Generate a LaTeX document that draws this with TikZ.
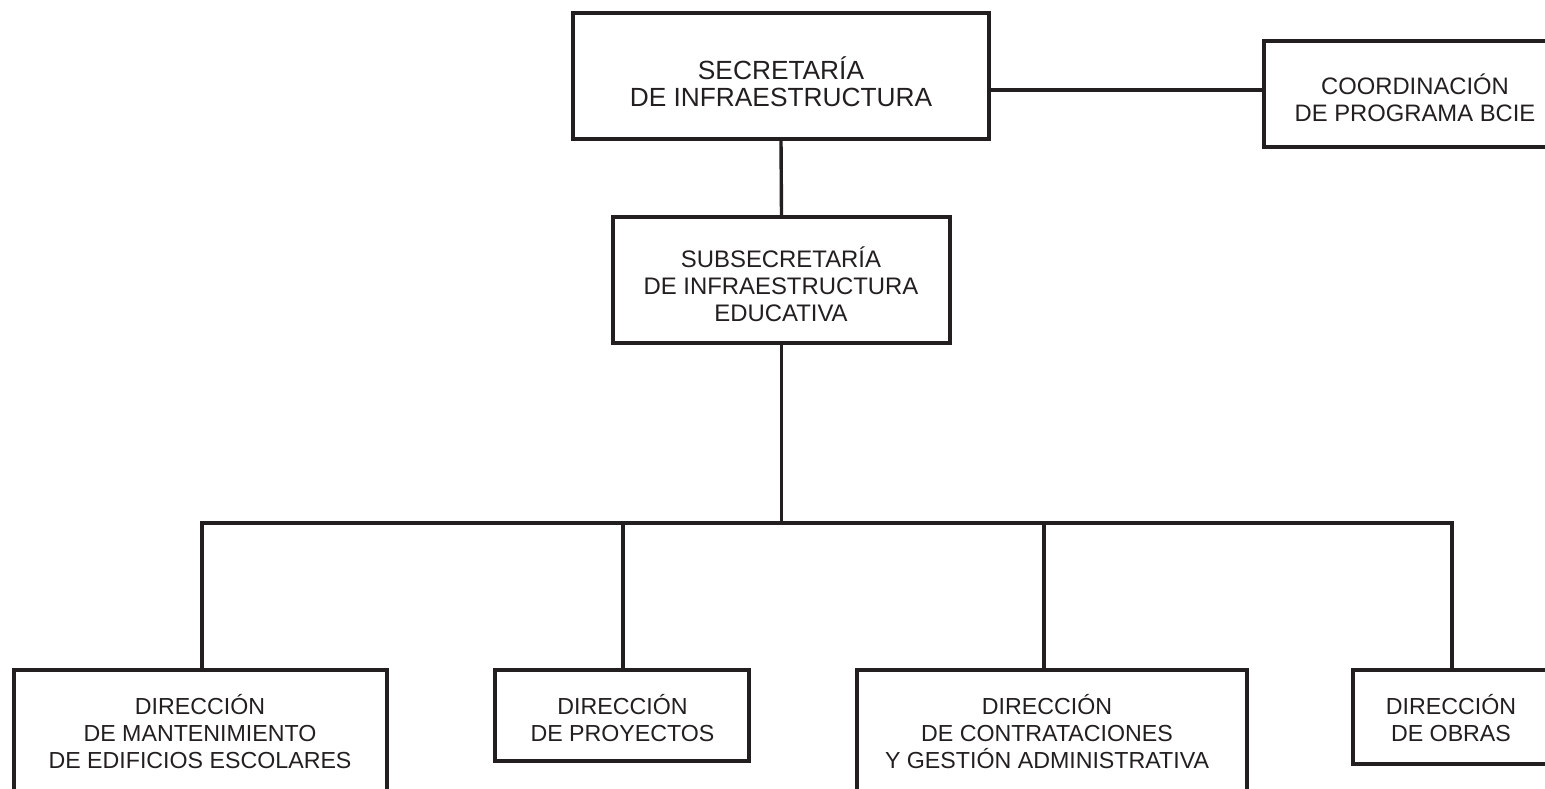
\documentclass[tikz,border=0pt]{standalone}
\usepackage{fontspec}
\setmainfont{Liberation Sans}
\definecolor{ink}{HTML}{231F20}
\begin{document}
\begin{tikzpicture}[x=1pt,y=-1pt,
  box/.style={draw=ink, line width=3.4pt, rectangle, inner sep=0pt, line join=miter},
  lbl/.style={text=ink, align=center, anchor=base, inner sep=0pt},
  conn/.style={draw=ink, line width=3.4pt, line join=miter}]
\useasboundingbox (0,0) rectangle (1545,789);
\fill[white] (0,0) rectangle (1545,789);
\clip (0,0) rectangle (1545,789);
% boxes
\node[box, minimum width=416pt, minimum height=126pt] (sec) at (781,76) {};
\node[box, minimum width=356pt, minimum height=106pt] (coord) at (1442,94) {};
\node[box, minimum width=337pt, minimum height=126pt] (sub) at (781.5,280) {};
\node[box, minimum width=373pt, minimum height=180pt] (man) at (200.5,760) {};
\node[box, minimum width=254pt, minimum height=91pt] (proy) at (622,715.5) {};
\node[box, minimum width=390pt, minimum height=180pt] (contr) at (1052,760) {};
\node[box, minimum width=267pt, minimum height=94pt] (obr) at (1486.5,717) {};
% texts (anchor base = baseline of last line)
\node[lbl, font=\fontsize{26.3}{27}\selectfont] (sect) at (781,107) {SECRETARÍA\\DE INFRAESTRUCTURA};
\node[lbl, font=\fontsize{23.8}{27}\selectfont] (coordt) at (1415,122) {COORDINACIÓN\\DE PROGRAMA BCIE};
\node[lbl, font=\fontsize{23.9}{27}\selectfont] (subt) at (781,321) {SUBSECRETARÍA\\DE INFRAESTRUCTURA\\EDUCATIVA};
\node[lbl, font=\fontsize{23.2}{26.7}\selectfont] (mant) at (200,768) {DIRECCIÓN\\DE MANTENIMIENTO\\DE EDIFICIOS ESCOLARES};
\node[lbl, font=\fontsize{23.2}{26.7}\selectfont] (proyt) at (622.5,741) {DIRECCIÓN\\DE PROYECTOS};
\node[lbl, font=\fontsize{23.2}{26.7}\selectfont] (contrt) at (1047,768) {DIRECCIÓN\\DE CONTRATACIONES\\Y GESTIÓN ADMINISTRATIVA};
\node[lbl, font=\fontsize{23.2}{26.7}\selectfont] (obrt) at (1451,741) {DIRECCIÓN\\DE OBRAS};
% connectors
\coordinate (hl) at (1100,90);
\coordinate (bus) at (781,523);
\coordinate (d1) at (202,0);
\coordinate (d2) at (623,0);
\coordinate (d3) at (1044,0);
\coordinate (d4) at (1452,0);
\draw[conn] (sec.south) -- (sub.north);
\draw[conn] (sec.east |- hl) -- (coord.west |- hl);
\draw[conn] (sub.south) -- (sub.south |- bus);
\draw[conn] (man.north -| d1) -- (d1 |- bus) -- (d4 |- bus) -- (obr.north -| d4);
\draw[conn] (d2 |- bus) -- (proy.north -| d2);
\draw[conn] (d3 |- bus) -- (contr.north -| d3);
\end{tikzpicture}
\end{document}
